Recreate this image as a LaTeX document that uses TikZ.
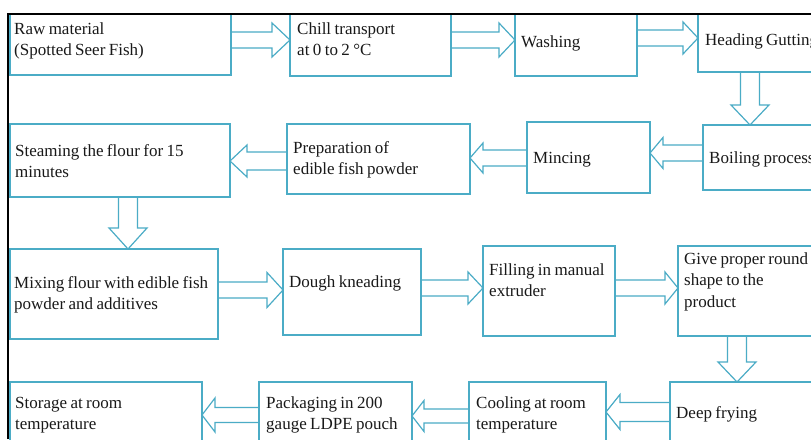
\documentclass[tikz,border=0pt]{standalone}
\usepackage{fontspec}
\setmainfont[WordSpace=0.8]{Liberation Serif}
\usetikzlibrary{calc}
\definecolor{boxc}{RGB}{75,172,198}
\newcommand{\rblock}[6]{%
 \draw[arr] ($(#1.east|-0,#3)+(0,-#4)$) -- ($(#2.west|-0,#3)+(-#6,-#4)$) -- ($(#2.west|-0,#3)+(-#6,-#5)$) -- (#2.west|-0,#3) -- ($(#2.west|-0,#3)+(-#6,#5)$) -- ($(#2.west|-0,#3)+(-#6,#4)$) -- ($(#1.east|-0,#3)+(0,#4)$);}
\newcommand{\lblock}[6]{%
 \draw[arr] ($(#1.west|-0,#3)+(0,-#4)$) -- ($(#2.east|-0,#3)+(#6,-#4)$) -- ($(#2.east|-0,#3)+(#6,-#5)$) -- (#2.east|-0,#3) -- ($(#2.east|-0,#3)+(#6,#5)$) -- ($(#2.east|-0,#3)+(#6,#4)$) -- ($(#1.west|-0,#3)+(0,#4)$);}
\newcommand{\dblock}[6]{%
 \draw[arr] ($(#1.south-|#3,0)+(-#4,0)$) -- ($(#2.north-|#3,0)+(-#4,-#6)$) -- ($(#2.north-|#3,0)+(-#5,-#6)$) -- (#2.north-|#3,0) -- ($(#2.north-|#3,0)+(#5,-#6)$) -- ($(#2.north-|#3,0)+(#4,-#6)$) -- ($(#1.south-|#3,0)+(#4,0)$);}
\begin{document}
\begin{tikzpicture}[x=1pt,y=-1pt,
 box/.style={draw=boxc,line width=1.8pt,inner sep=0pt,outer sep=0pt,anchor=north west,rectangle},
 txt/.style={anchor=base west,align=left,inner sep=0pt,font=\fontsize{17}{21.5}\selectfont,text=black!90},
 arr/.style={draw=boxc,line width=1.2pt,line join=miter}]
\useasboundingbox (0,0) rectangle (811,439);
\clip (0,0) rectangle (811,439);
\fill[white] (0,0) rectangle (811,439);
% boxes
\node[box,minimum width=221pt,minimum height=61pt] (raw) at (10,14) {};
\node[box,minimum width=161pt,minimum height=62pt] (chill) at (290,14) {};
\node[box,minimum width=122pt,minimum height=62pt] (wash) at (515,14) {};
\node[box,minimum width=140pt,minimum height=58pt] (head) at (698,14) {};
\node[box,minimum width=135pt,minimum height=65pt] (boil) at (703,125) {};
\node[box,minimum width=123pt,minimum height=71pt] (minc) at (527,122) {};
\node[box,minimum width=183pt,minimum height=70pt] (prep) at (287,124) {};
\node[box,minimum width=220pt,minimum height=73pt] (steam) at (10,124) {};
\node[box,minimum width=208pt,minimum height=90pt] (mix) at (10,249) {};
\node[box,minimum width=138pt,minimum height=86pt] (dough) at (283,249) {};
\node[box,minimum width=132pt,minimum height=90pt] (fill) at (483,246) {};
\node[box,minimum width=160pt,minimum height=90pt] (give) at (678,246) {};
\node[box,minimum width=160pt,minimum height=80pt] (deep) at (670,382) {};
\node[box,minimum width=137pt,minimum height=80pt] (cool) at (469,382) {};
\node[box,minimum width=153pt,minimum height=80pt] (pack) at (259,382) {};
\node[box,minimum width=192pt,minimum height=80pt] (stor) at (10,382) {};
% texts (anchor = baseline of the last line)
\node[txt] (rawt) at (14,55.5) {Raw material\\(Spotted Seer Fish)};
\node[txt] (chillt) at (297,55.5) {Chill transport\\at 0 to 2 °C};
\node[txt] (washt) at (521,47) {Washing};
\node[txt] (headt) at (705,45) {Heading Gutting};
\node[txt] (boilt) at (709,163) {Boiling process};
\node[txt] (minct) at (533,163) {Mincing};
\node[txt] (prept) at (293,174.5) {Preparation of\\edible fish powder};
\node[txt] (steamt) at (15,177.5) {Steaming the flour for 15\\minutes};
\node[txt] (mixt) at (14,309.5) {Mixing flour with edible fish\\powder and additives};
\node[txt] (dought) at (289,287) {Dough kneading};
\node[txt] (fillt) at (489,296.5) {Filling in manual\\extruder};
\node[txt] (givet) at (684,307) {Give proper round\\shape to the\\product};
\node[txt] (deept) at (676,418) {Deep frying};
\node[txt] (coolt) at (476,429.5) {Cooling at room\\temperature};
\node[txt] (packt) at (266,429.5) {Packaging in 200\\gauge LDPE pouch};
\node[txt] (stort) at (15,429.5) {Storage at room\\temperature};
% arrows
\rblock{raw}{chill}{40}{8}{17}{18}
\rblock{chill}{wash}{40}{8}{17}{16}
\rblock{wash}{head}{38}{8}{16}{15}
\dblock{head}{boil}{750}{9.5}{19}{20}
\lblock{boil}{minc}{153}{8}{15.5}{13}
\lblock{minc}{prep}{158}{8}{15}{13}
\lblock{prep}{steam}{161}{9}{16}{17}
\dblock{steam}{mix}{128}{9.5}{19}{21}
\rblock{mix}{dough}{290}{8}{17.5}{16}
\rblock{dough}{fill}{288}{8}{16}{15}
\rblock{fill}{give}{288}{8}{16}{13}
\dblock{give}{deep}{737}{9.5}{19}{20}
\lblock{deep}{cool}{412}{9.5}{17.5}{14}
\lblock{cool}{pack}{416}{7}{15.5}{12}
\lblock{pack}{stor}{415}{7.5}{17}{13}
% frame
\draw[black,line width=1.2pt] (8,439) -- (8,14) -- (811,14);
\end{tikzpicture}
\end{document}
